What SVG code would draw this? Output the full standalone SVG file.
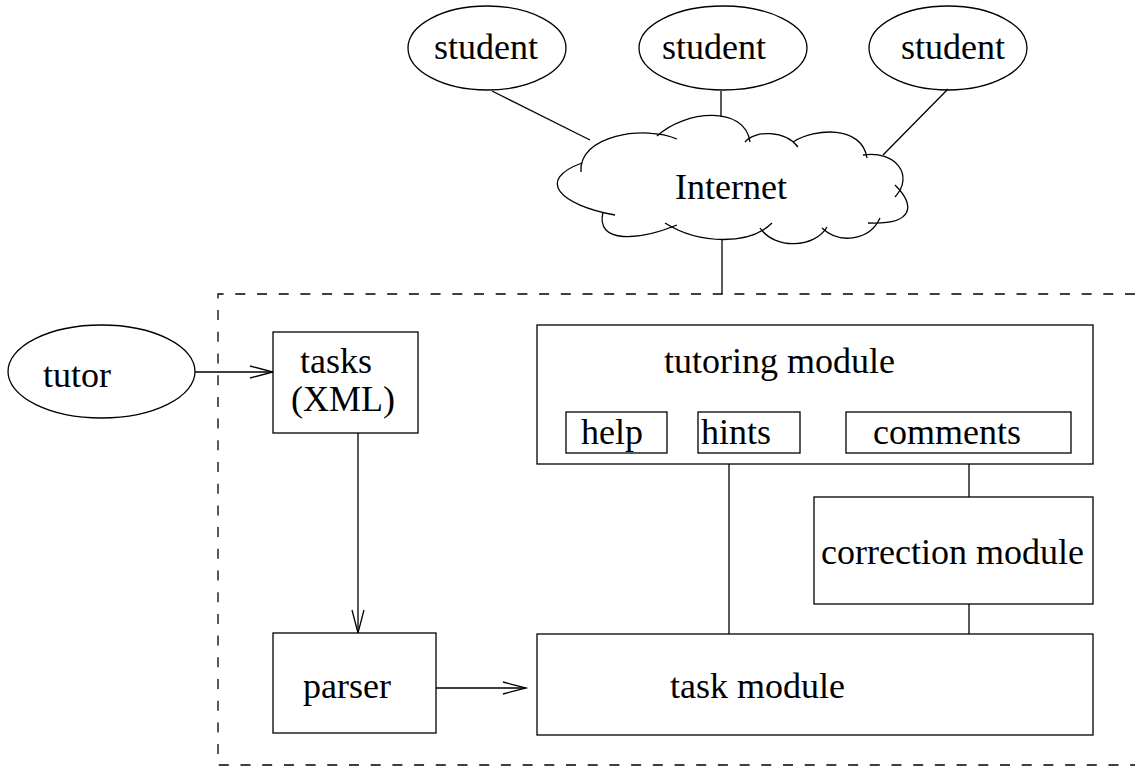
<svg xmlns="http://www.w3.org/2000/svg" width="1135" height="768" viewBox="0 0 1135 768">
  <style>
    .shape { fill: none; stroke: #000; stroke-width: 1.3; }
    .box { fill: #fff; stroke: #000; stroke-width: 1.3; }
    .wire { fill: none; stroke: #000; stroke-width: 1.3; }
    .frame { fill: none; stroke: #000; stroke-width: 1.3; stroke-dasharray: 10 11.7; }
    text { font-family: "Liberation Serif", "Times New Roman", serif; font-size: 36px; fill: #000; }
  </style>
  <defs>
    <marker id="arrow" markerWidth="26" markerHeight="16" refX="23" refY="7" orient="auto" markerUnits="userSpaceOnUse" overflow="visible">
      <path d="M0,1 L23,7 L0,13" fill="none" stroke="#000" stroke-width="1.3"/>
    </marker>
  </defs>

  <!-- system boundary (dashed) -->
  <path class="frame" d="M1135,294 H218 V765 H1135"/>

  <!-- connectors -->
  <g id="connectors">
    <line class="wire" x1="492" y1="91" x2="590" y2="140"/>
    <line class="wire" x1="721" y1="91" x2="721" y2="117"/>
    <line class="wire" x1="948" y1="89" x2="883" y2="155"/>
    <line class="wire" x1="722" y1="240" x2="722" y2="294"/>
    <line class="wire" x1="195" y1="372" x2="273" y2="372" marker-end="url(#arrow)"/>
    <line class="wire" x1="358" y1="433" x2="358" y2="633" marker-end="url(#arrow)"/>
    <line class="wire" x1="436" y1="688" x2="526" y2="688" marker-end="url(#arrow)"/>
    <line class="wire" x1="729" y1="464" x2="729" y2="634"/>
    <line class="wire" x1="969" y1="464" x2="969" y2="497"/>
    <line class="wire" x1="969" y1="604" x2="969" y2="634"/>
  </g>

  <!-- students -->
  <g id="student1">
    <ellipse class="shape" cx="487" cy="48" rx="79" ry="42"/>
    <text x="434" y="59">student</text>
  </g>
  <g id="student2">
    <ellipse class="shape" cx="723" cy="48" rx="84" ry="42"/>
    <text x="662" y="59">student</text>
  </g>
  <g id="student3">
    <ellipse class="shape" cx="948" cy="48" rx="79" ry="42"/>
    <text x="901" y="59">student</text>
  </g>

  <!-- Internet cloud: overlapping arcs -->
  <g id="internet">
    <path class="shape" d="M581,172 C578,135 645,125 677,139"/>
    <path class="shape" d="M657,136 C685,110 745,105 750,142"/>
    <path class="shape" d="M745,142 C755,130 785,130 798,147"/>
    <path class="shape" d="M793,142 C815,128 862,125 867,158"/>
    <path class="shape" d="M863,155 C895,150 915,175 895,197"/>
    <path class="shape" d="M895,185 C915,205 915,225 868,223"/>
    <path class="shape" d="M880,218 C870,240 840,245 822,228"/>
    <path class="shape" d="M827,227 C815,248 775,250 760,228"/>
    <path class="shape" d="M772,223 C750,245 700,245 665,223"/>
    <path class="shape" d="M677,225 C640,240 595,245 603,212"/>
    <path class="shape" d="M615,215 C560,205 535,180 582,163"/>
    <text x="675" y="199">Internet</text>
  </g>

  <!-- tutor -->
  <g id="tutor">
    <ellipse class="shape" cx="101.5" cy="371.5" rx="93.5" ry="46.5"/>
    <text x="43" y="387">tutor</text>
  </g>

  <!-- tasks (XML) -->
  <g id="tasks">
    <rect class="box" x="273" y="332" width="145" height="101"/>
    <text x="300" y="373">tasks</text>
    <text x="291" y="411">(XML)</text>
  </g>

  <!-- parser -->
  <g id="parser">
    <rect class="box" x="273" y="633" width="163" height="100"/>
    <text x="303" y="698">parser</text>
  </g>

  <!-- tutoring module -->
  <g id="tutoring-module">
    <rect class="box" x="537" y="325" width="556" height="139"/>
    <text x="664" y="373">tutoring module</text>
  </g>
  <g id="help">
    <rect class="box" x="566" y="412" width="101" height="41"/>
    <text x="581" y="444">help</text>
  </g>
  <g id="hints">
    <rect class="box" x="698" y="412" width="102" height="41"/>
    <text x="701" y="444">hints</text>
  </g>
  <g id="comments">
    <rect class="box" x="846" y="412" width="225" height="41"/>
    <text x="873" y="444">comments</text>
  </g>

  <!-- correction module -->
  <g id="correction-module">
    <rect class="box" x="814" y="497" width="279" height="107"/>
    <text x="821" y="564">correction module</text>
  </g>

  <!-- task module -->
  <g id="task-module">
    <rect class="box" x="537" y="634" width="556" height="101"/>
    <text x="670" y="698">task module</text>
  </g>
</svg>
